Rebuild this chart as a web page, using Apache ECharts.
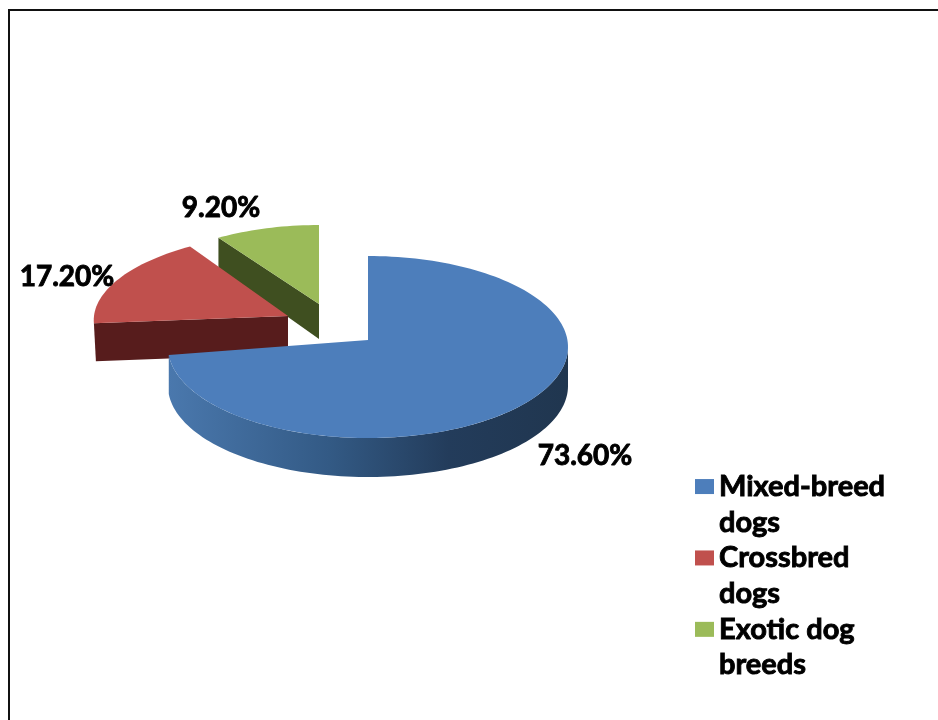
<!DOCTYPE html>
<html>
<head>
<meta charset="utf-8">
<style>html,body{margin:0;padding:0;background:#fff}#c{width:938px;height:720px}</style>
<script src="https://cdn.jsdelivr.net/npm/echarts@6/dist/echarts.min.js"></script>
</head>
<body>
<div id="c"></div>
<script>
var categories = ['Mixed-breed dogs', 'Crossbred dogs', 'Exotic dog breeds'];
var legendLines = ['Mixed-breed\ndogs', 'Crossbred\ndogs', 'Exotic dog\nbreeds'];
var values = [73.6, 17.2, 9.2];

// Presentation only: how each slice is placed in the tilted, exploded view.
var topColors = ['#4d7ebb', '#c0504d', '#9bbb59'];
var wallColors = ['#2c4a6e', '#571c1c', '#3f4f20'];
var apexes = [[368, 340], [288, 316], [319, 304]];
var ellipseCentres = [[368, 347], [288, 316], [319, 304]];
var radii = [[200, 91], [194, 83], [184, 79]];
var skews = [0, -0.116, 0];
var depths = [39, 38, 35];
var labelSpots = [[585, 456], [67, 277], [221, 208]];
var zOrder = [3, 2, 1];

var total = values.reduce(function (a, b) { return a + b; }, 0);

function arcPoints(i, from, to) {
  var pts = [], n = Math.max(2, Math.ceil(Math.abs(to - from) / 0.03));
  for (var k = 0; k <= n; k++) {
    var a = from + (to - from) * k / n;
    var dy = -radii[i][1] * Math.cos(a);
    pts.push([ellipseCentres[i][0] + radii[i][0] * Math.sin(a) + skews[i] * dy,
              ellipseCentres[i][1] + dy]);
  }
  return pts;
}
function shifted(pts, d) { return pts.map(function (p) { return [p[0], p[1] + d]; }); }

function makeRender(i) {
  return function (params, api) {
    var before = 0;
    for (var j = 0; j < i; j++) before += values[j];
    var start = before / total * 2 * Math.PI;
    var end = (before + api.value(0)) / total * 2 * Math.PI;
    var d = depths[i], apex = apexes[i], children = [];
    var arc = arcPoints(i, start, end);

    if (i === 0) {
      // outer wall visible along the front of the ellipse
      var front = arcPoints(i, Math.PI / 2, end);
      var wall = front.concat(shifted(front, d).reverse());
      children.push({
        type: 'polygon', shape: { points: wall },
        style: {
          fill: new echarts.graphic.LinearGradient(0, 0, 1, 0, [
            { offset: 0, color: '#4a78ad' }, { offset: 0.4, color: '#335a85' },
            { offset: 0.7, color: '#233c5b' }, { offset: 1, color: '#20364f' }
          ])
        }
      });
    } else if (i === 1) {
      var l = arc[0];
      children.push({
        type: 'polygon',
        shape: { points: [apex, l, [l[0] + 2, l[1] + d], [apex[0], apex[1] + d]] },
        style: { fill: wallColors[i] }
      });
    } else {
      var s = arc[0];
      children.push({
        type: 'polygon',
        shape: { points: [s, apex, [apex[0], apex[1] + d], [s[0], s[1] + d - 5]] },
        style: { fill: wallColors[i] }
      });
    }
    children.push({
      type: 'polygon', shape: { points: [apex].concat(arc) },
      style: { fill: topColors[i] }
    });
    children.push({
      type: 'text',
      style: {
        x: labelSpots[i][0], y: labelSpots[i][1],
        text: api.value(0).toFixed(2) + '%',
        align: 'center', verticalAlign: 'middle',
        fill: '#000', font: 'bold 28px Lato',
        stroke: '#000', lineWidth: 0.9
      }
    });
    return { type: 'group', children: children };
  };
}

var chart = echarts.init(document.getElementById('c'), null, { renderer: 'canvas' });
chart.setOption({
  animation: false,
  backgroundColor: '#fff',
  graphic: [{
    type: 'rect', z: 0, silent: true,
    shape: { x: 9, y: 10, width: 1000, height: 800 },
    style: { fill: '#fff', stroke: '#111', lineWidth: 2 }
  }],
  legend: {
    orient: 'vertical', left: 695, top: 433, padding: 0, selectedMode: false,
    icon: 'rect', itemWidth: 19, itemHeight: 15, itemGap: -35.7,
    data: categories,
    // the leading blank line keeps the marker level with the first line of text
    formatter: function (n) { return '\n' + legendLines[categories.indexOf(n)]; },
    textStyle: {
      fontFamily: 'Lato', fontWeight: 'bold', fontSize: 29, lineHeight: 35.7,
      color: '#000', textBorderColor: '#000', textBorderWidth: 0.9
    }
  },
  series: categories.map(function (name, i) {
    return {
      type: 'custom', name: name, coordinateSystem: 'none', silent: true,
      z: zOrder[i], itemStyle: { color: topColors[i] },
      data: [[values[i]]], renderItem: makeRender(i)
    };
  })
});
</script>
</body>
</html>
